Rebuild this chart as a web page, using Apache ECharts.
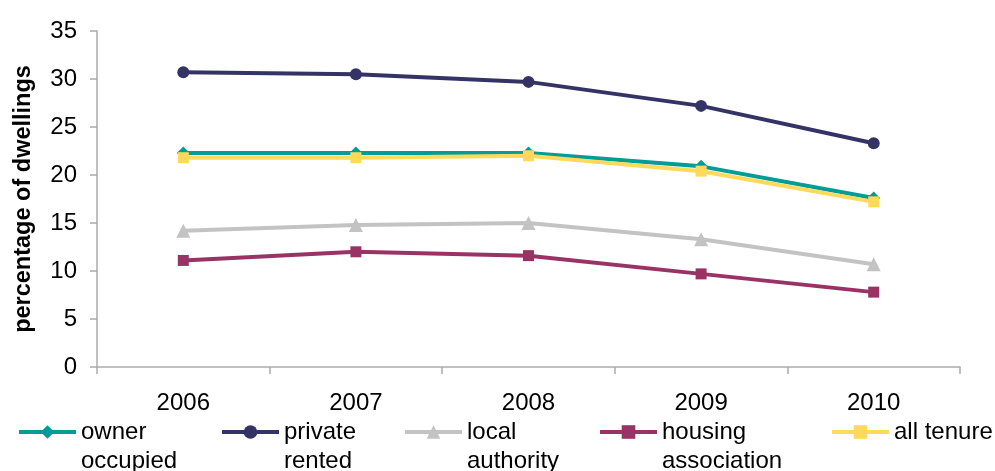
<!DOCTYPE html>
<html>
<head>
<meta charset="utf-8">
<script src="https://cdn.jsdelivr.net/npm/echarts@6/dist/echarts.min.js"></script>
<style>html,body{margin:0;padding:0;background:#fff}#c{width:995px;height:471px}</style>
</head>
<body>
<div id="c"></div>
<script>
var years = ['2006', '2007', '2008', '2009', '2010'];
var ownerOccupied = [22.3, 22.3, 22.3, 20.9, 17.6];
var privateRented = [30.7, 30.5, 29.7, 27.2, 23.3];
var localAuthority = [14.2, 14.8, 15.0, 13.3, 10.7];
var housingAssociation = [11.1, 12.0, 11.6, 9.7, 7.8];
var allTenure = [21.8, 21.8, 22.0, 20.4, 17.2];
var seriesNames = ['owner\noccupied', 'private\nrented', 'local\nauthority', 'housing\nassociation', 'all tenure'];
var yTicks = [0, 5, 10, 15, 20, 25, 30, 35];

var colors = ['#009C98', '#333366', '#C3C3C3', '#993366', '#FFDA5A'];
var symbols = ['diamond', 'circle', 'triangle', 'rect', 'rect'];
var symbolSizes = [13, 12, 14, 11, 11];
var dataSets = [ownerOccupied, privateRented, localAuthority, housingAssociation, allTenure];
var legendLefts = [17, 220, 403, 598, 830];

var font = 'Liberation Sans, Arial, sans-serif';
var series = dataSets.map(function (d, i) {
  return {
    name: seriesNames[i],
    type: 'line',
    data: d,
    symbol: symbols[i],
    symbolSize: symbolSizes[i],
    showAllSymbol: true,
    lineStyle: { color: colors[i], width: 4 },
    itemStyle: { color: colors[i] },
    emphasis: { disabled: true },
    animation: false
  };
});
var legends = seriesNames.map(function (n, i) {
  var twoLine = n.indexOf('\n') >= 0;
  return {
    data: [n],
    left: legendLefts[i],
    top: twoLine ? 388.5 : 417.5,
    orient: 'horizontal',
    itemWidth: 57,
    itemHeight: 17,
    itemGap: 5,
    padding: 0,
    selectedMode: false,
    formatter: function (name) { return name.indexOf('\n') >= 0 ? '\n' + name : name; },
    lineStyle: { width: 4 },
    textStyle: { fontFamily: font, fontSize: 24, color: '#000', lineHeight: 29 }
  };
});
var chart = echarts.init(document.getElementById('c'));
chart.setOption({
  animation: false,
  backgroundColor: '#fff',
  grid: { left: 97, right: 35, top: 31, bottom: 104, outerBoundsMode: 'none', containLabel: false },
  legend: legends,
  xAxis: {
    type: 'category',
    data: years,
    boundaryGap: true,
    axisLine: { lineStyle: { color: '#ABABAB', width: 1.5 } },
    axisTick: { show: true, length: 7, lineStyle: { color: '#ABABAB', width: 1.5 } },
    axisLabel: { fontFamily: font, fontSize: 24, color: '#000', margin: 24 },
    splitLine: { show: false }
  },
  yAxis: {
    type: 'value',
    min: yTicks[0],
    max: yTicks[yTicks.length - 1],
    interval: 5,
    name: 'percentage of dwellings',
    nameLocation: 'middle',
    nameGap: 61,
    nameTextStyle: { fontFamily: font, fontSize: 23.5, fontWeight: 'bold', color: '#000' },
    axisLine: { show: true, lineStyle: { color: '#ABABAB', width: 1.5 } },
    axisTick: { show: true, length: 7, lineStyle: { color: '#ABABAB', width: 1.5 } },
    axisLabel: { fontFamily: font, fontSize: 24, color: '#000', margin: 20 },
    splitLine: { show: false }
  },
  series: series
});
</script>
</body>
</html>
